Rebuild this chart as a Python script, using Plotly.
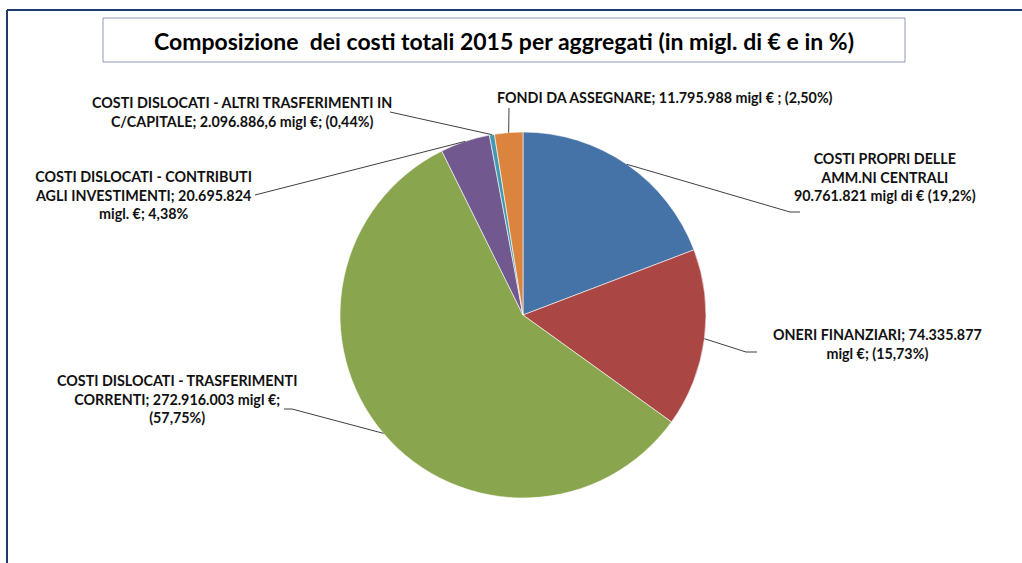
import math
import plotly.graph_objects as go

W, H = 1022, 563

# ---- data ----
categories = [
    "COSTI PROPRI DELLE AMM.NI CENTRALI",
    "ONERI FINANZIARI",
    "COSTI DISLOCATI - TRASFERIMENTI CORRENTI",
    "COSTI DISLOCATI - CONTRIBUTI AGLI INVESTIMENTI",
    "COSTI DISLOCATI - ALTRI TRASFERIMENTI IN C/CAPITALE",
    "FONDI DA ASSEGNARE",
]
values = [90761821, 74335877, 272916003, 20695824, 2096886.6, 11795988]
label_texts = [
    "COSTI PROPRI DELLE<br>AMM.NI CENTRALI<br>90.761.821 migl di € (19,2%)",
    "ONERI FINANZIARI; 74.335.877<br>migl €; (15,73%)",
    "COSTI DISLOCATI - TRASFERIMENTI<br>CORRENTI; 272.916.003 migl €;<br>(57,75%)",
    "COSTI DISLOCATI - CONTRIBUTI<br>AGLI INVESTIMENTI; 20.695.824<br>migl. €; 4,38%",
    "COSTI DISLOCATI - ALTRI TRASFERIMENTI IN<br>C/CAPITALE; 2.096.886,6 migl €; (0,44%)",
    "FONDI DA ASSEGNARE; 11.795.988 migl € ; (2,50%)",
]
colors = ["#4572A7", "#AA4643", "#89A54E", "#71588F", "#4198AF", "#DB843D"]
title_text = "Composizione  dei costi totali 2015 per aggregati (in migl. di € e in %)"

# ---- layout (pixel positions) ----
cx, cy, R = 523, 315, 183
label_pos = [(885, 177), (877, 344), (177, 399), (143, 195), (242, 112), (665, 97)]
line_ends = [[(790, 212), (800, 212)],
             [(746, 352), (757, 352)],
             [(292, 409), (284, 409)],
             [(255, 195)],
             [(390, 112)],
             [(509, 108)]]

def px(x):
    return x / W

def py(y):
    return 1 - y / H

fig = go.Figure(go.Pie(
    labels=categories, values=values, sort=False, direction="clockwise",
    rotation=0, marker=dict(colors=colors, line=dict(color="white", width=0.6)),
    textinfo="none", hoverinfo="label+value+percent", showlegend=False,
    domain=dict(x=[px(cx - R), px(cx + R)], y=[py(cy + R), py(cy - R)]),
))

shapes = []
annotations = []
total = sum(values)
cum = 0
for i, v in enumerate(values):
    mid = (cum + v / 2) / total * 2 * math.pi
    cum += v
    sx = cx + R * math.sin(mid)
    sy = cy - R * math.cos(mid)
    pts = [(sx, sy)] + line_ends[i]
    for (x0, y0), (x1, y1) in zip(pts[:-1], pts[1:]):
        shapes.append(dict(type="line", xref="paper", yref="paper",
                           x0=px(x0), y0=py(y0), x1=px(x1), y1=py(y1),
                           line=dict(color="#404040", width=1)))
    lx, ly = label_pos[i]
    annotations.append(dict(text="<b>" + label_texts[i] + "</b>", x=px(lx), y=py(ly),
                            xref="paper", yref="paper", showarrow=False,
                            xanchor="center", yanchor="middle", align="center",
                            font=dict(family="Lato", size=14.3, color="#111111")))

# frame
shapes.append(dict(type="line", xref="paper", yref="paper", x0=px(7), y0=py(10), x1=1, y1=py(10),
                   line=dict(color="#1F3A6E", width=2)))
shapes.append(dict(type="line", xref="paper", yref="paper", x0=px(7), y0=py(10), x1=px(7), y1=0,
                   line=dict(color="#1F3A6E", width=2)))
# title box
shapes.append(dict(type="rect", xref="paper", yref="paper", x0=px(103), y0=py(62), x1=px(905), y1=py(18),
                   line=dict(color="#8A9BB0", width=1), fillcolor="white", layer="below"))
annotations.append(dict(text="<b>" + title_text + "</b>", x=px(504), y=py(41), xref="paper", yref="paper",
                        showarrow=False, xanchor="center", yanchor="middle",
                        font=dict(family="Lato", size=23, color="#000000")))

fig.update_layout(width=W, height=H, margin=dict(l=0, r=0, t=0, b=0),
                  paper_bgcolor="white", plot_bgcolor="white",
                  shapes=shapes, annotations=annotations)
fig.write_html("out.html", config={"displayModeBar": False},
               post_script="document.body.style.margin='0px';")
